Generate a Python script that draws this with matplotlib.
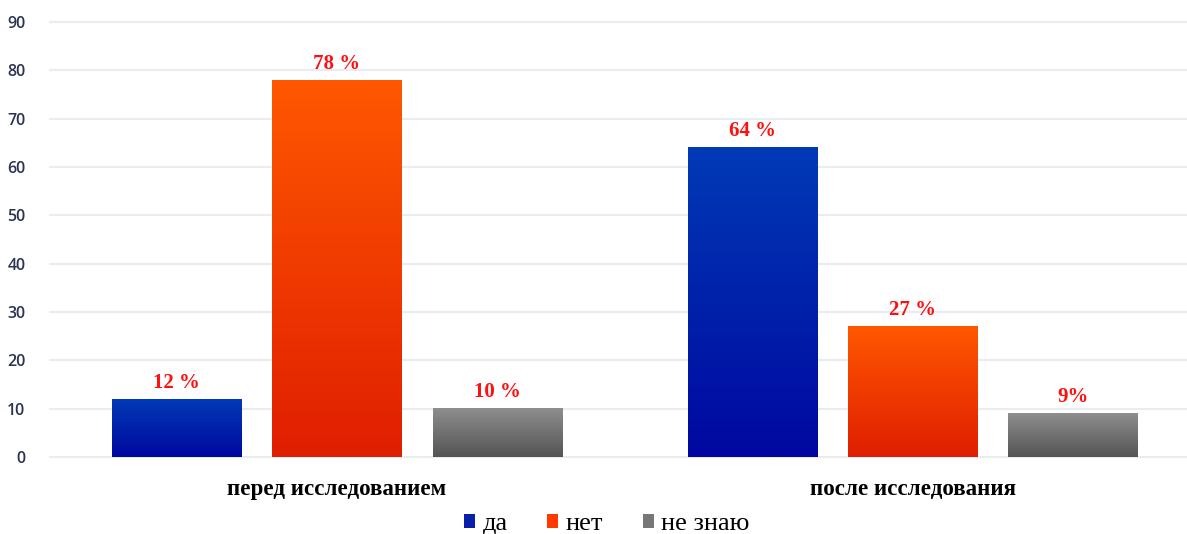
import numpy as np
import matplotlib
matplotlib.use("Agg")
import matplotlib.pyplot as plt
from matplotlib.colors import LinearSegmentedColormap
from matplotlib.patches import Patch

categories = ['перед исследованием', 'после исследования']
series_names = ['да', 'нет', 'не знаю']
da = [12, 64]
net = [78, 27]
ne_znayu = [10, 9]
labels_da = ['12 %', '64 %']
labels_net = ['78 %', '27 %']
labels_ne = ['10 %', '9%']
yticks = [0, 10, 20, 30, 40, 50, 60, 70, 80, 90]

series = [da, net, ne_znayu]
series_labels = [labels_da, labels_net, labels_ne]
grad = [('#0008a0', '#003ab6'), ('#e01e00', '#ff5800'), ('#545454', '#8e8e8e')]
legend_cols = ['#0a1fa8', '#ff3a00', '#777777']

W, H = 1187, 534
fig = plt.figure(figsize=(W / 100, H / 100), dpi=100)
ax = fig.add_axes([49 / W, (534 - 459.4) / H, (W - 49) / W, (459.4 - 19.6) / H])

x = np.arange(len(categories))
width = 0.224
offsets = [-0.278, 0.0, 0.278]
gimg = np.linspace(1, 0, 256).reshape(-1, 1)

for vals, labs, off, (c0, c1) in zip(series, series_labels, offsets, grad):
    cmap = LinearSegmentedColormap.from_list('g', [c0, c1])
    bars = ax.bar(x + off, vals, width, color='none', edgecolor='none', zorder=3)
    for b, lab in zip(bars, labs):
        x0, y0 = b.get_x(), b.get_y()
        x1, y1 = x0 + b.get_width(), y0 + b.get_height()
        ax.imshow(gimg, extent=[x0, x1, y0, y1], aspect='auto', cmap=cmap,
                  vmin=0, vmax=1, zorder=3, interpolation='bilinear')
        ax.text((x0 + x1) / 2, y1 + 1.3, lab, ha='center', va='bottom',
                color='#ff1010', fontsize=15, fontweight='bold',
                family='Liberation Serif', zorder=4)

ax.set_xlim(-0.5, 1.476)
ax.set_ylim(-0.5, 90.5)
ax.set_yticks(yticks)
ax.set_yticklabels([str(v) for v in yticks], color='#2a3350', fontsize=11.5,
                   family='Open Sans', fontweight='semibold')
ax.set_xticks(x)
ax.set_xticklabels(categories, fontsize=16.6, fontweight='bold',
                   family='Liberation Serif', color='black')
ax.tick_params(axis='y', length=0, pad=17)
ax.tick_params(axis='x', length=0, pad=14)
ax.grid(axis='y', color='#e8edf4', linewidth=1.6, zorder=0)
ax.set_axisbelow(True)
for s in ax.spines.values():
    s.set_visible(False)

handles = [Patch(facecolor=c, edgecolor='none') for c in legend_cols]
fig.legend(handles, series_names, loc='center', bbox_to_anchor=(607 / W, 0.018),
           ncol=3, frameon=False, prop={'family': 'Liberation Serif', 'size': 19},
           handlelength=0.42, handleheight=0.42, handletextpad=0.28, columnspacing=1.5)

fig.savefig('out.png', dpi=100)
